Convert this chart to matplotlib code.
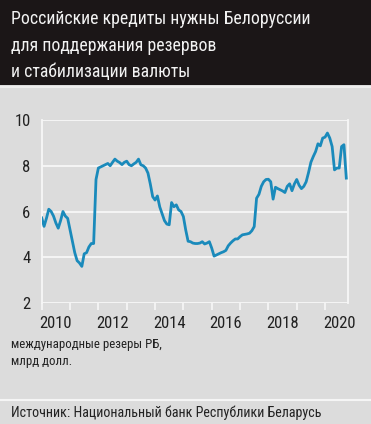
"""Резервы РБ — линия по месяцам, шапка и подписи как в газетной графике."""
import matplotlib
matplotlib.use("Agg")
import matplotlib.pyplot as plt
from matplotlib.patches import Rectangle
from matplotlib.lines import Line2D

# международные резервы РБ, млрд долл., помесячно с янв. 2010 по окт. 2020
r2010 = [5.72, 5.35, 5.7, 6.1, 6.0, 5.8, 5.5, 5.27, 5.6, 6.0, 5.8, 5.7]
r2011 = [5.2, 4.7, 4.2, 3.85, 3.75, 3.6, 4.15, 4.2, 4.45, 4.6, 4.6, 7.4]
r2012 = [7.9, 7.95, 8.0, 8.05, 8.1, 8.0, 8.15, 8.29, 8.2, 8.14, 8.05, 8.15]
r2013 = [8.2, 8.05, 8.0, 8.08, 8.15, 8.29, 8.04, 8.0, 7.9, 7.68, 7.2, 6.65]
r2014 = [6.5, 6.68, 6.2, 5.9, 5.6, 5.45, 5.42, 6.39, 6.21, 6.29, 6.07, 6.0]
r2015 = [5.78, 5.19, 4.7, 4.68, 4.62, 4.6, 4.6, 4.62, 4.68, 4.58, 4.62, 4.68]
r2016 = [4.4, 4.05, 4.1, 4.15, 4.2, 4.24, 4.3, 4.5, 4.62, 4.72, 4.8, 4.8]
r2017 = [4.9, 4.98, 5.0, 5.02, 5.05, 5.16, 5.34, 6.58, 6.75, 7.1, 7.3, 7.4]
r2018 = [7.41, 7.3, 6.54, 7.06, 7.0, 6.95, 6.9, 6.83, 7.1, 7.21, 6.91, 7.2]
r2019 = [7.4, 7.15, 7.0, 7.1, 7.3, 7.7, 8.15, 8.4, 8.62, 8.96, 8.87, 9.21]
r2020 = [9.25, 9.43, 9.21, 8.84, 7.82, 7.9, 7.9, 8.84, 8.92, 7.46]

reserves = r2010 + r2011 + r2012 + r2013 + r2014 + r2015 + r2016 + r2017 + r2018 + r2019 + r2020
t = [2010 + i / 12 for i in range(len(reserves))]

years = list(range(2010, 2021))
year_labels = [str(y) if y % 2 == 0 else "" for y in years]
yticks = [2, 4, 6, 8, 10]

title = "Российские кредиты нужны Белоруссии\nдля поддержания резервов\nи стабилизации валюты"
unit = "международные резеры РБ,\nмлрд долл."
source = "Источник: Национальный банк Республики Беларусь"

BG = "#dcdcdc"
HEAD = "#1b1617"
LINE = "#1a8abb"
TXT = "#222222"
FONT = ["Roboto Condensed", "DejaVu Sans"]

W, H = 371, 424
fig = plt.figure(figsize=(W / 100, H / 100), dpi=100)
fig.patch.set_facecolor(BG)

# шапка
fig.add_artist(Rectangle((0, 1 - 85 / H), 1, 85 / H, transform=fig.transFigure,
                         facecolor=HEAD, edgecolor="none"))
fig.add_artist(Line2D([0, 1], [1 - 86.5 / H] * 2, transform=fig.transFigure,
                      color="#ededed", lw=1.5))
fig.text(11 / W, 1 - 10 / H, title, color="#f2f2f2", fontsize=12.8, family=FONT,
         va="top", ha="left", linespacing=1.62)

ax = fig.add_axes([41.7 / W, 1 - 303 / H, (348 - 41.7) / W, (303 - 120) / H])
ax.set_facecolor(BG)
ax.plot(t, reserves, color=LINE, lw=2.0, solid_joinstyle="round", zorder=5)

ax.set_ylim(2, 10)
ax.set_xlim(2010, 2020.81)
ax.set_yticks(yticks)
ax.set_yticklabels([str(v) for v in yticks], family=FONT, fontsize=12, color=TXT)
ax.grid(axis="y", color="#f7f7f7", lw=1.3)
ax.tick_params(axis="y", length=0, pad=8)

ax.set_xticks(years)
ax.set_xticklabels([])
ax.tick_params(axis="x", which="major", direction="out", length=5, width=1.2,
               color="#f7f7f7")
ax.set_xticks([y + 0.5 for y in years], minor=True)
ax.set_xticklabels(year_labels, minor=True, family=FONT, fontsize=12, color=TXT)
ax.tick_params(axis="x", which="minor", length=0, pad=9)

for s in ("top", "bottom"):
    ax.spines[s].set_visible(False)
for s in ("left", "right"):
    ax.spines[s].set_color("#f7f7f7")
    ax.spines[s].set_linewidth(1.3)

fig.text(11 / W, 1 - 338 / H, unit, color=TXT, fontsize=9.3, family=FONT,
         va="top", ha="left", linespacing=1.45)
fig.add_artist(Line2D([0, 1], [1 - 399.5 / H] * 2, transform=fig.transFigure,
                      color="#f5f5f5", lw=1.5))
fig.text(11 / W, 1 - 413 / H, source, color=TXT, fontsize=10.1, family=FONT,
         va="center", ha="left")

fig.savefig("out.png", dpi=100, facecolor=fig.get_facecolor())
